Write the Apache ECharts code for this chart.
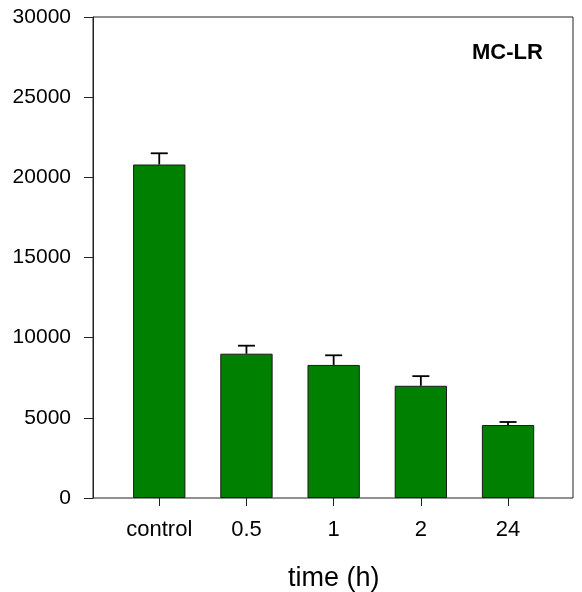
<!DOCTYPE html>
<html>
<head>
<meta charset="utf-8">
<script src="https://cdn.jsdelivr.net/npm/echarts@6/dist/echarts.min.js"></script>
<style>
  html, body { margin: 0; padding: 0; background: #fff; }
  #chart { width: 582px; height: 592px; }
</style>
</head>
<body>
<div id="chart"></div>
<script>
// data
const categories = ['control', '0.5', '1', '2', '24']
const means = [20800, 9000, 8300, 7000, 4550]
const upperErr = [21500, 9500, 8900, 7600, 4740]
const yTicks = { min: 0, max: 30000, interval: 5000 }

const font = '"Liberation Sans", Arial, sans-serif'
const chart = echarts.init(document.getElementById('chart'))

const errData = categories.map((c, i) => [i, means[i], upperErr[i]])

chart.setOption({
  animation: false,
  textStyle: { fontFamily: font },
  graphic: [{
    type: 'text',
    left: 472,
    top: 42,
    style: {
      text: 'MC-LR',
      font: 'bold 22px ' + font,
      fill: '#000'
    }
  }],
  grid: [
    // frame grid, carries the visible y axis
    { left: 93, top: 17, right: 9, bottom: 94, outerBoundsMode: 'none', show: true, borderColor: '#222', borderWidth: 1, backgroundColor: 'transparent' },
    // bar grid, narrower so the categories sit inside the frame like the original
    { left: 115.65, top: 17, right: 30.35, bottom: 94, outerBoundsMode: 'none' }
  ],
  xAxis: [
    { gridIndex: 0, type: 'value', show: false, min: 0, max: 1 },
    {
      gridIndex: 1,
      type: 'category',
      data: categories,
      axisLine: { show: false },
      axisTick: { show: true, alignWithLabel: true, length: 8, lineStyle: { color: '#222', width: 1 } },
      axisLabel: { color: '#000', fontSize: 22, margin: 21, fontFamily: font },
      name: 'time (h)',
      nameLocation: 'middle',
      nameGap: 67,
      nameTextStyle: { color: '#000', fontSize: 27, fontFamily: font }
    }
  ],
  yAxis: [
    {
      gridIndex: 0,
      type: 'value',
      min: yTicks.min,
      max: yTicks.max,
      interval: yTicks.interval,
      axisLine: { show: true, lineStyle: { color: '#222', width: 1 } },
      axisTick: { show: true, length: 9, lineStyle: { color: '#222', width: 1 } },
      axisLabel: { color: '#000', fontSize: 21, margin: 22, fontFamily: font, formatter: v => String(v) },
      splitLine: { show: false }
    },
    { gridIndex: 1, type: 'value', show: false, min: yTicks.min, max: yTicks.max, splitLine: { show: false } }
  ],
  series: [
    {
      type: 'bar',
      xAxisIndex: 1,
      yAxisIndex: 1,
      data: means,
      barWidth: '60%',
      itemStyle: { color: '#008000', borderColor: '#1a1a1a', borderWidth: 1 }
    },
    {
      type: 'custom',
      xAxisIndex: 1,
      yAxisIndex: 1,
      data: errData,
      z: 3,
      renderItem (params, api) {
        const x = api.value(0)
        const base = api.coord([x, api.value(1)])
        const top = api.coord([x, api.value(2)])
        const half = 8.5
        const style = { stroke: '#000', lineWidth: 1.8 }
        return {
          type: 'group',
          children: [
            { type: 'line', shape: { x1: base[0], y1: base[1], x2: top[0], y2: top[1] }, style },
            { type: 'line', shape: { x1: top[0] - half, y1: top[1], x2: top[0] + half, y2: top[1] }, style }
          ]
        }
      }
    }
  ]
})
</script>
</body>
</html>
